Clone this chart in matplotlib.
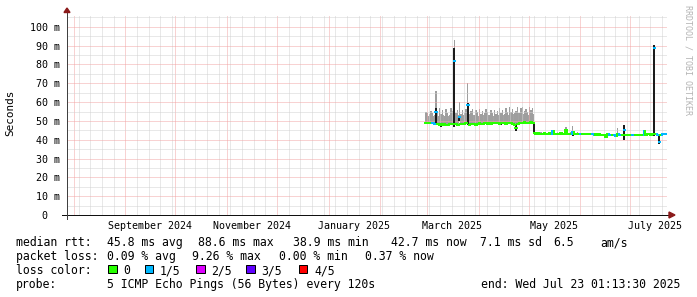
import datetime as dt
import matplotlib
matplotlib.use("Agg")
import matplotlib.pyplot as plt
import matplotlib.dates as mdates
import matplotlib.transforms as mtransforms
from matplotlib.collections import LineCollection
from matplotlib.patches import Rectangle, Polygon
from matplotlib.ticker import MultipleLocator

# daily rtt values (ms), first day 2025-02-28
first_day = dt.datetime(2025, 2, 28)
median_ms = [
    49.0, 48.9, 48.8, 48.9, 48.7, 48.6, 55.0, 48.2, 47.8, 48.3,
    47.6, 48.4, 48.1, 47.9, 48.5, 48.2, 48.6, 82.0, 48.4, 48.1,
    52.0, 48.3, 48.6, 48.2, 48.7, 58.7, 48.0, 48.4, 48.6, 48.3,
    47.9, 48.5, 48.8, 48.6, 48.3, 48.7, 48.9, 48.5, 48.8, 48.6,
    48.9, 48.7, 49.0, 48.8, 48.6, 48.9, 49.1, 48.8, 48.5, 48.9,
    49.0, 48.7, 48.3, 48.0, 46.0, 48.4, 48.8, 49.1, 48.9, 49.2,
    49.0, 48.8, 49.1, 49.2, 49.0,
    43.4, 43.3, 43.4, 43.2, 43.3, 43.1, 43.4, 43.3, 43.2, 43.4,
    43.3, 44.4, 43.2, 43.1, 43.3, 43.2, 43.4, 43.1, 43.2, 45.0,
    43.1, 43.2, 43.3, 44.0, 43.2, 43.1, 43.3, 43.0, 43.2, 43.1,
    43.0, 42.9, 43.1, 42.8, 43.0, 42.9, 42.7, 42.8, 42.6, 42.9,
    42.7, 42.5, 42.6, 41.5, 42.8, 42.6, 42.4, 42.5, 42.3, 42.2,
    43.0, 42.4, 42.6, 42.5, 45.3, 42.7, 42.4, 42.5, 42.3, 42.6,
    42.4, 42.5, 42.3, 42.6, 42.7, 42.5, 44.4, 42.6, 42.8, 42.9,
    42.7, 42.8, 88.6, 42.9, 42.6, 38.9, 42.4, 42.8, 43.0, 42.9,
]
# dense lower part of the smoke, first 65 days
smoke_base_ms = [
    52.8, 52.4, 52.2, 53.0, 52.6, 52.0, 53.3, 52.7, 53.6, 52.5,
    53.2, 52.1, 53.4, 52.8, 52.3, 53.7, 52.9, 53.2, 52.6, 53.1,
    53.5, 52.4, 53.0, 52.7, 53.3, 53.8, 52.6, 53.1, 53.4, 52.2,
    53.3, 52.8, 53.5, 52.4, 53.0, 52.7, 53.6, 52.9, 52.3, 53.2,
    52.8, 53.4, 52.5, 53.1, 53.8, 52.7, 53.3, 52.4, 53.7, 52.9,
    53.9, 53.2, 53.6, 52.7, 53.1, 54.0, 52.8, 53.5, 53.8, 53.2,
    53.4, 52.9, 53.8, 53.3, 53.6,
]
smoke_top_ms = [
    55.0, 54.2, 53.6, 55.3, 54.0, 53.4, 66.0, 54.6, 56.8, 53.9,
    55.6, 52.8, 56.2, 54.4, 53.2, 57.0, 55.1, 93.0, 54.2, 56.0,
    60.0, 53.6, 55.8, 54.1, 56.4, 70.0, 53.8, 55.4, 56.1, 53.2,
    55.9, 54.6, 56.3, 53.5, 55.2, 54.0, 56.6, 54.8, 53.4, 55.7,
    54.3, 56.0, 53.9, 55.5, 57.1, 54.2, 55.8, 53.7, 56.9, 54.5,
    57.4, 55.0, 56.2, 54.1, 55.3, 57.6, 54.4, 56.8, 57.2, 55.1,
    56.5, 54.6, 57.3, 55.9, 56.7,
    43.9, 43.8, 44.0, 43.7, 43.9, 43.6, 44.1, 43.8, 43.7, 43.9,
    43.8, 44.8, 43.7, 43.6, 43.9, 43.7, 44.0, 43.6, 43.8, 47.0,
    43.6, 43.8, 43.9, 47.2, 43.7, 43.6, 43.9, 43.5, 43.8, 43.6,
    43.5, 43.4, 43.7, 43.3, 43.5, 43.4, 43.2, 43.3, 43.1, 43.5,
    43.2, 43.0, 43.2, 42.9, 43.3, 43.1, 42.9, 43.0, 42.8, 42.8,
    46.2, 42.9, 43.1, 43.0, 48.0, 43.2, 42.9, 43.0, 42.8, 43.1,
    42.9, 43.0, 42.8, 43.1, 43.2, 43.0, 45.0, 43.1, 43.3, 43.4,
    43.2, 43.3, 90.5, 43.4, 43.1, 43.0, 42.9, 43.3, 43.5, 43.4,
]
# lost pings out of 5 per day
loss = [
    0, 0, 0, 0, 1, 1, 1, 0, 0, 0,
    0, 0, 0, 0, 0, 0, 0, 1, 0, 0,
    1, 0, 0, 0, 0, 1, 0, 0, 0, 0,
    0, 0, 0, 0, 0, 0, 0, 0, 0, 0,
    0, 0, 0, 0, 0, 0, 0, 0, 0, 0,
    0, 0, 0, 0, 0, 0, 0, 0, 0, 0,
    0, 0, 0, 0, 0,
    0, 0, 0, 0, 0, 0, 0, 0, 0, 0,
    0, 1, 0, 0, 0, 0, 0, 0, 0, 0,
    0, 0, 0, 1, 0, 0, 0, 0, 1, 0,
    0, 0, 0, 0, 0, 1, 1, 0, 0, 0,
    0, 0, 0, 0, 0, 1, 1, 0, 1, 1,
    0, 1, 1, 0, 1, 0, 0, 0, 0, 1,
    1, 0, 0, 0, 0, 0, 1, 0, 0, 0,
    0, 0, 1, 0, 1, 1, 0, 1, 1, 1,
]
# dense (dark) smoke
dark_day = [6, 9, 12, 17, 20, 25, 45, 54, 64.8, 76, 84, 88, 108, 119, 131, 137, 140]
dark_lo_ms = [48.0, 47.0, 47.2, 47.0, 49.8, 48.0, 47.6, 44.5, 43.3, 43.0, 42.5, 41.8, 41.0, 40.0, 43.0, 42.0, 38.0]
dark_hi_ms = [57.0, 48.0, 48.0, 89.0, 52.0, 59.7, 48.4, 48.5, 49.2, 44.6, 45.3, 44.4, 43.0, 47.6, 44.6, 90.3, 43.0]

month_labels = ["September 2024", "November 2024", "January 2025",
                "March 2025", "May 2025", "July 2025"]
month_label_dates = [dt.datetime(2024, 9, 16), dt.datetime(2024, 11, 16),
                     dt.datetime(2025, 1, 16), dt.datetime(2025, 3, 16),
                     dt.datetime(2025, 5, 16), dt.datetime(2025, 7, 16)]
y_ticks_ms = [0, 10, 20, 30, 40, 50, 60, 70, 80, 90, 100]

loss_colors = ["#26ff00", "#00b8ff", "#dd00ff", "#6000ff", "#ff0000"]
loss_names = ["0", "1/5", "2/5", "3/5", "4/5"]

W, H = 697, 297
MONO = "DejaVu Sans Mono"

fig = plt.figure(figsize=(W / 100, H / 100), dpi=100)
ax = fig.add_axes([67 / W, (H - 215) / H, 600 / W, 200 / H])
ax.set_xlim(mdates.date2num(dt.datetime(2024, 7, 28, 1, 13, 30)),
            mdates.date2num(dt.datetime(2025, 7, 23, 1, 13, 30)))
ax.set_ylim(0, 0.1063)

for s in ax.spines.values():
    s.set_visible(False)
ax.xaxis.set_major_locator(mdates.MonthLocator())
ax.xaxis.set_minor_locator(mdates.WeekdayLocator(byweekday=mdates.SU))
ax.yaxis.set_major_locator(MultipleLocator(0.01))
ax.yaxis.set_minor_locator(MultipleLocator(0.005))
ax.tick_params(which="both", length=0, labelbottom=False, labelleft=False)
ax.grid(which="minor", color="#d2d2d2", lw=0.72, ls=(0, (1, 1)), zorder=2.5)
ax.grid(which="major", color="#f2a6a6", lw=0.72, ls=(0, (1, 1)), zorder=2.6)

start = mdates.date2num(first_day)
xs = [start + i + 0.5 for i in range(len(median_ms))]
med = [v / 1000 for v in median_ms]
top = [v / 1000 for v in smoke_top_ms]
base = [v / 1000 for v in smoke_base_ms]

# smoke: dense part, then thin spikes
ax.bar(xs[:len(base)], [b - m for b, m in zip(base, med)], bottom=med[:len(base)],
       width=1.0, color="#a2a2a2", linewidth=0, zorder=1)
ax.bar(xs, [t - m for t, m in zip(top, med)], bottom=med, width=0.75,
       color="#9e9e9e", linewidth=0, zorder=1)
ax.bar([start + d + 0.5 for d in dark_day],
       [(h - l) / 1000 for l, h in zip(dark_lo_ms, dark_hi_ms)],
       bottom=[l / 1000 for l in dark_lo_ms], width=1.3,
       color="#1c1c1c", linewidth=0, zorder=2)

# median line coloured by loss
segs, cols = [], []
for i, m in enumerate(med):
    x0 = start + i
    c = loss_colors[loss[i]]
    segs.append([(x0, m), (x0 + 1, m)])
    cols.append(c)
    if i > 0 and abs(median_ms[i] - median_ms[i - 1]) < 2.0:
        segs.append([(x0, med[i - 1]), (x0, m)])
        cols.append(c)
ax.add_collection(LineCollection(segs, colors=cols, linewidths=1.44,
                                 capstyle="projecting", zorder=3))

# axes with arrows
ax.plot([-5 / 600, 1 + 2 / 600], [0, 0], transform=ax.transAxes, color="#101010",
        lw=0.72, clip_on=False, antialiased=False, zorder=4)
ax.plot([0, 0], [-4 / 200, 1 + 3 / 200], transform=ax.transAxes, color="#404040",
        lw=0.72, clip_on=False, antialiased=False, zorder=4)
ax.add_patch(Polygon([(1 + 2 / 600, 3 / 200), (1 + 2 / 600, -3 / 200), (1 + 8 / 600, 0)],
                     closed=True, transform=ax.transAxes, color="#8b1a1a", clip_on=False, zorder=5))
ax.add_patch(Polygon([(-3 / 600, 1 + 2.5 / 200), (3 / 600, 1 + 2.5 / 200), (0, 1 + 7 / 200)],
                     closed=True, transform=ax.transAxes, color="#8b1a1a", clip_on=False, zorder=5))

# tick labels
for v in y_ticks_ms:
    lab = "0" if v == 0 else "%d m" % v
    dx = -20 if v == 0 else -7
    tr = ax.get_yaxis_transform() + mtransforms.ScaledTranslation(dx / 100, 0, fig.dpi_scale_trans)
    ax.text(0, v / 1000, lab, transform=tr, ha="right", va="center_baseline",
            family=MONO, fontsize=7.2, color="#000000")
for lab, d in zip(month_labels, month_label_dates):
    tr = ax.get_xaxis_transform() + mtransforms.ScaledTranslation(0, -10 / 100, fig.dpi_scale_trans)
    ax.text(mdates.date2num(d), 0, lab, transform=tr, ha="center", va="center_baseline",
            family=MONO, fontsize=7.2, color="#000000")

fig.text(10 / W, 1 - 113 / H, "Seconds", rotation=90, ha="center", va="center",
         family=MONO, fontsize=7.9)
fig.text(688 / W, 1 - 5 / H, "RRDTOOL / TOBI OETIKER", rotation=270, ha="center", va="top",
         family=MONO, fontsize=6, color="#b4b4b4")


def put(x, y, s, ha="left"):
    fig.text(x / W, 1 - y / H, s, ha=ha, va="center_baseline", family=MONO, fontsize=8.3)


put(16, 241, "median rtt:")
for x, s in [(107, "45.8 ms avg"), (198, "88.6 ms max"), (293, "38.9 ms min"),
             (391, "42.7 ms now"), (480, "7.1 ms sd"), (553, "6.5"), (600, "am/s")]:
    put(x, 241, s)
put(16, 255, "packet loss:")
for x, s in [(107, "0.09 % avg"), (192, "9.26 % max"), (279, "0.00 % min"), (365, "0.37 % now")]:
    put(x, 255, s)
put(16, 269, "loss color:")
box_x = [108, 144.5, 196, 246, 298.5]
for bx, c, n in zip(box_x, loss_colors, loss_names):
    fig.add_artist(Rectangle((bx / W, 1 - 273 / H), 8.5 / W, 8.5 / H, facecolor=c,
                             edgecolor="black", lw=0.72, transform=fig.transFigure))
    put(bx + 15.5, 269, n)
put(16, 283, "probe:")
put(107, 283, "5 ICMP Echo Pings (56 Bytes) every 120s")
put(680, 283, "end: Wed Jul 23 01:13:30 2025", ha="right")

fig.savefig("out.png", dpi=100, facecolor="white")
